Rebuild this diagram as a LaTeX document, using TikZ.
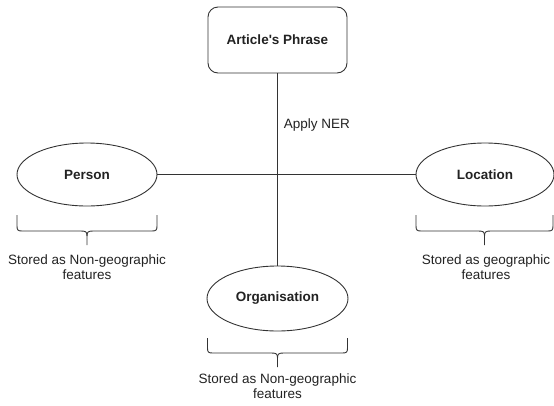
\documentclass[tikz,border=0pt]{standalone}
\usepackage{fontspec}
\setmainfont{Liberation Sans}
\usetikzlibrary{shapes.geometric,calc}
\definecolor{ln}{HTML}{333333}
\definecolor{tx}{HTML}{222222}
\tikzset{
  every node/.style={text=tx, font=\fontsize{13.5}{15}\selectfont},
  conn/.style={draw=ln, line width=0.9pt},
  entity/.style={ellipse, draw=ln, line width=0.9pt, minimum width=140pt, minimum height=63pt, inner sep=0pt, font=\fontsize{13.5}{15}\selectfont\bfseries},
  phrasebox/.style={rectangle, rounded corners=10pt, draw=ln, line width=0.9pt, minimum width=139pt, minimum height=66pt, inner sep=0pt, font=\fontsize{13.5}{15}\selectfont\bfseries},
  curly/.style={draw=ln, line width=0.9pt},
  note/.style={align=center, inner sep=0pt}
}
\newcommand\curlybrace[5]{% left x, right x, top y, bottom y, tip y
  \pgfmathsetmacro\xm{(#1+#2)/2}
  \draw[curly] (#1,#3) -- (#1,#4-5) .. controls (#1,#4-1) and (#1+1,#4) .. (#1+5,#4)
     -- (\xm-6,#4) .. controls (\xm-1,#4) and (\xm,#4+1) .. (\xm,#4+5) -- (\xm,#5);
  \draw[curly] (#2,#3) -- (#2,#4-5) .. controls (#2,#4-1) and (#2-1,#4) .. (#2-5,#4)
     -- (\xm+6,#4) .. controls (\xm+1,#4) and (\xm,#4+1) .. (\xm,#4+5);
}
\begin{document}
\begin{tikzpicture}[x=1pt,y=-1pt]
\useasboundingbox (0,0) rectangle (554,405);
\node[phrasebox] (phrase) at (277.5,40) {Article\textquotesingle s Phrase};
\node[entity] (person) at (87,174.5) {Person};
\node[entity, minimum width=138pt] (location) at (485,174.5) {Location};
\node[entity, minimum width=141pt, minimum height=65pt] (org) at (277.5,298.5) {Organisation};
\draw[conn] (person) -- (location);
\draw[conn] (phrase.south) -- (org.north) node[pos=0.27, anchor=west, xshift=6pt, inner sep=0pt] (ner) {Apply NER};
\curlybrace{17}{157}{215}{231}{245}
\curlybrace{416}{553}{215}{231}{245}
\curlybrace{207.5}{347.5}{338}{353}{367}
\node[note] (n1) at (87,267) {Stored as Non-geographic\\features};
\node[note] (n2) at (486,267) {Stored as geographic\\features};
\node[note] (n3) at (277.5,386) {Stored as Non-geographic\\features};
\end{tikzpicture}
\end{document}
